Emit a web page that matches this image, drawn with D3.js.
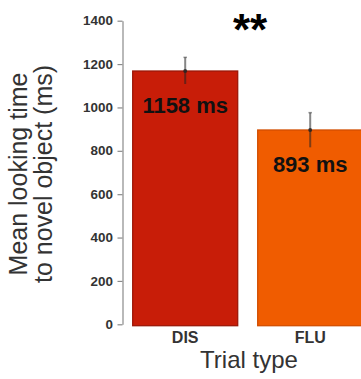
<!DOCTYPE html>
<html>
<head>
<meta charset="utf-8">
<script src="https://cdn.jsdelivr.net/npm/d3@7"></script>
<style>
  html, body { margin: 0; padding: 0; background: #fff; }
  svg { display: block; font-family: "Liberation Sans", Arial, sans-serif; }
</style>
</head>
<body>
<div id="chart"></div>
<script>
// data
const trialTypes = ["DIS", "FLU"];
const meanValues = [1168, 896];
const errLow = [1108, 816];
const errHigh = [1231, 976];
const barLabels = ["1158 ms", "893 ms"];
const yTicks = [0, 200, 400, 600, 800, 1000, 1200, 1400];
const barColors = ["#c81d08", "#f05c00"];
const barEdges = ["#9c1808", "#d24e00"];

const width = 361, height = 379;

const svg = d3.select("#chart")
    .append("svg")
    .attr("width", width)
    .attr("height", height);

const y = d3.scaleLinear().domain([0, 1400]).range([324.3, 20.7]);
const x = d3.scaleBand()
    .domain(trialTypes)
    .range([122.7, 372.7])
    .paddingInner(0.16)
    .paddingOuter(0.08);

// y axis
const yAxis = svg.append("g")
    .attr("transform", "translate(122.5,0)")
    .call(d3.axisLeft(y).tickValues(yTicks).tickFormat(d3.format("d"))
        .tickSize(5).tickPadding(4).tickSizeOuter(0));
yAxis.select(".domain").attr("stroke", "#8a8a8a").attr("stroke-width", 1.2);
yAxis.selectAll(".tick line").attr("stroke", "#8a8a8a").attr("stroke-width", 1.2);
yAxis.selectAll(".tick text")
    .attr("fill", "#333")
    .style("font-size", "12px")
    .style("font-weight", "bold")
    .attr("transform", "scale(1.12,1)")
    .attr("x", -9.5 / 1.12)
    .attr("dy", "0.34em");

// bars
svg.selectAll("rect.bar")
    .data(trialTypes)
    .join("rect")
    .attr("class", "bar")
    .attr("x", d => x(d))
    .attr("y", (d, i) => y(meanValues[i]))
    .attr("width", x.bandwidth())
    .attr("height", (d, i) => y(0) - y(meanValues[i]) + 1.4)
    .attr("fill", (d, i) => barColors[i])
    .attr("stroke", (d, i) => barEdges[i])
    .attr("stroke-width", 1.3);

// error bars
const err = svg.selectAll("g.err")
    .data(trialTypes)
    .join("g")
    .attr("class", "err")
    .attr("transform", d => `translate(${x(d) + x.bandwidth() / 2},0)`);
err.append("line")
    .attr("y1", (d, i) => y(errHigh[i]))
    .attr("y2", (d, i) => y(errLow[i]))
    .attr("stroke", "#222")
    .attr("stroke-opacity", 0.55)
    .attr("stroke-width", 2);
err.append("line")
    .attr("x1", -1.8).attr("x2", 1.8)
    .attr("y1", (d, i) => y(errHigh[i]))
    .attr("y2", (d, i) => y(errHigh[i]))
    .attr("stroke", "#222").attr("stroke-opacity", 0.45).attr("stroke-width", 1.5);
err.append("circle")
    .attr("cy", (d, i) => y(meanValues[i]))
    .attr("r", 2)
    .attr("fill", "#222")
    .attr("fill-opacity", 0.8);

// value labels
svg.selectAll("text.val")
    .data(trialTypes)
    .join("text")
    .attr("class", "val")
    .attr("x", d => x(d) + x.bandwidth() / 2)
    .attr("y", (d, i) => y(meanValues[i]) + 42)
    .attr("text-anchor", "middle")
    .style("font-size", "22px")
    .style("font-weight", "bold")
    .attr("fill", "#111")
    .text((d, i) => barLabels[i]);

// x category labels
svg.selectAll("text.cat")
    .data(trialTypes)
    .join("text")
    .attr("class", "cat")
    .attr("x", d => x(d) + x.bandwidth() / 2)
    .attr("y", 343.3)
    .attr("text-anchor", "middle")
    .style("font-size", "16px")
    .style("font-weight", "bold")
    .attr("fill", "#333")
    .text(d => d);

// axis titles
svg.append("text")
    .attr("x", 249)
    .attr("y", 368)
    .attr("text-anchor", "middle")
    .style("font-size", "24px")
    .attr("fill", "#333")
    .text("Trial type");

const yTitle = svg.append("text")
    .attr("transform", "translate(27,174) rotate(-90)")
    .attr("text-anchor", "middle")
    .style("font-size", "25px")
    .attr("fill", "#333");
yTitle.append("tspan").attr("x", 0).attr("y", 0).text("Mean looking time");
yTitle.append("tspan").attr("x", 0).attr("y", 25).text("to novel object (ms)");

// significance marker
svg.append("text")
    .attr("x", 250)
    .attr("y", 45)
    .attr("text-anchor", "middle")
    .style("font-size", "44px")
    .style("font-weight", "bold")
    .attr("fill", "#000")
    .text("**");
</script>
</body>
</html>
